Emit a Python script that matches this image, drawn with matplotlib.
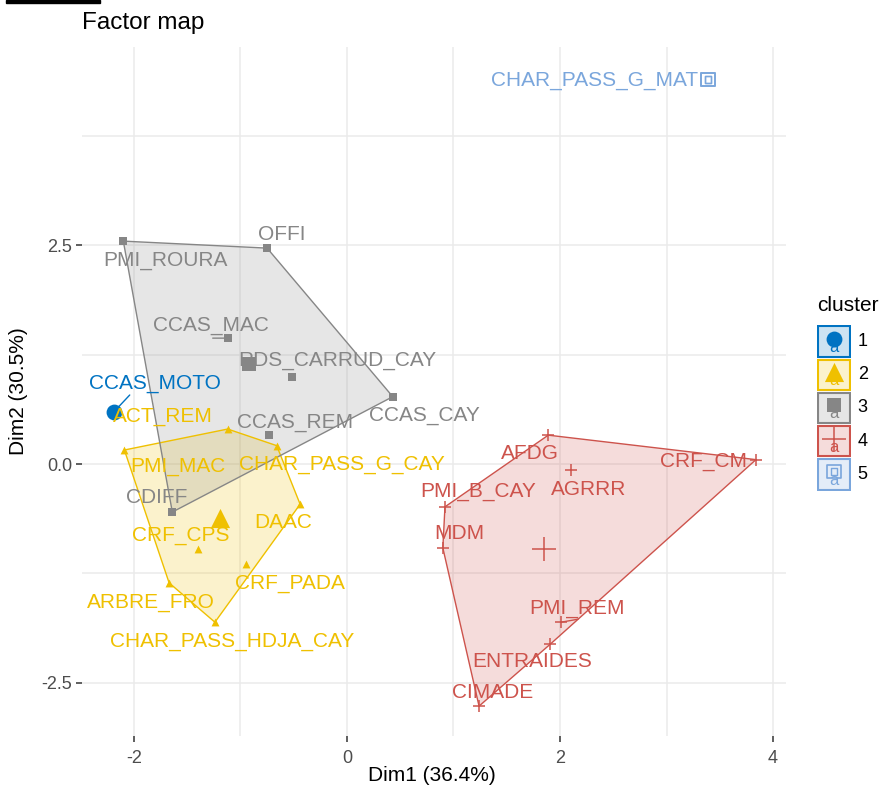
import matplotlib.pyplot as plt
import numpy as np
from matplotlib.patches import Polygon, Rectangle

plt.rcParams["font.family"] = ["Liberation Sans", "DejaVu Sans"]
plt.rcParams["axes.unicode_minus"] = False

# individuals on the first two principal components, with their k-means cluster
names = [
    "CCAS_MOTO",
    "ACT_REM", "PMI_MAC", "CHAR_PASS_G_CAY", "DAAC", "CRF_CPS", "CRF_PADA",
    "ARBRE_FRO", "CHAR_PASS_HDJA_CAY",
    "PMI_ROURA", "OFFI", "CCAS_MAC", "RDS_CARRUD_CAY", "CCAS_CAY", "CCAS_REM", "CDIFF",
    "AFDG", "CRF_CM", "AGRRR", "PMI_B_CAY", "MDM", "PMI_REM", "ENTRAIDES", "CIMADE",
    "CHAR_PASS_G_MAT",
]
dim1 = [
    -2.19,
    -1.12, -2.09, -0.66, -0.44, -1.40, -0.95, -1.67, -1.24,
    -2.10, -0.75, -1.12, -0.52, 0.43, -0.73, -1.64,
    1.89, 3.84, 2.10, 0.92, 0.90, 2.01, 1.91, 1.24,
    3.39,
]
dim2 = [
    0.595,
    0.40, 0.16, 0.21, -0.46, -0.97, -1.14, -1.36, -1.81,
    2.55, 2.47, 1.44, 1.00, 0.77, 0.33, -0.55,
    0.33, 0.05, -0.07, -0.49, -0.96, -1.81, -2.06, -2.77,
    4.40,
]
cluster = [1] + [2] * 8 + [3] * 7 + [4] * 8 + [5]

cluster_ids = [1, 2, 3, 4, 5]
cluster_colors = ["#0073C2", "#EFC000", "#868686", "#CD534C", "#7AA6DC"]
cluster_markers = ["o", "^", "s", "+", "sq"]

# where each repelled label sits relative to its point (pixels)
label_offset = {
    "CCAS_MOTO": (41, 28), "ACT_REM": (-65, 13), "PMI_MAC": (53, -16),
    "CHAR_PASS_G_CAY": (65, -19), "DAAC": (-17, -18), "CRF_CPS": (-17, 13),
    "CRF_PADA": (44, -20), "ARBRE_FRO": (-18, -20), "CHAR_PASS_HDJA_CAY": (17, -19),
    "PMI_ROURA": (42, -19), "OFFI": (15, 14), "CCAS_MAC": (-17, 13),
    "RDS_CARRUD_CAY": (46, 16), "CCAS_CAY": (32, -19), "CCAS_REM": (26, 13),
    "CDIFF": (-16, 15), "AFDG": (-18, -18), "CRF_CM": (-52, -2), "AGRRR": (18, -19),
    "PMI_B_CAY": (33, 15), "MDM": (16, 14), "PMI_REM": (16, 14),
    "ENTRAIDES": (-18, -17), "CIMADE": (14, 14), "CHAR_PASS_G_MAT": (-113, -1),
}
# short repel segments (end point relative to the point, pixels)
segment_end = {"CCAS_MOTO": (16, 17), "CCAS_MAC": (-15, 0), "PMI_REM": (17, 3)}


def convex_hull(pts):
    pts = sorted(map(tuple, pts))
    if len(pts) < 3:
        return pts

    def cross(o, a, b):
        return (a[0] - o[0]) * (b[1] - o[1]) - (a[1] - o[1]) * (b[0] - o[0])

    lower, upper = [], []
    for p in pts:
        while len(lower) >= 2 and cross(lower[-2], lower[-1], p) <= 0:
            lower.pop()
        lower.append(p)
    for p in reversed(pts):
        while len(upper) >= 2 and cross(upper[-2], upper[-1], p) <= 0:
            upper.pop()
        upper.append(p)
    return lower[:-1] + upper[:-1]


def draw_marker(ax, x, y, marker, color, big=False):
    if marker == "o":
        ax.scatter(x, y, marker="o", s=130 if big else 28, color=color, lw=0, zorder=4)
    elif marker == "^":
        ax.scatter(x, y, marker="^", s=190 if big else 32, color=color, lw=0, zorder=4)
    elif marker == "s":
        ax.scatter(x, y, marker="s", s=110 if big else 26, color=color, lw=0, zorder=4)
    elif marker == "+":
        ax.scatter(x, y, marker="+", s=300 if big else 80, color=color, lw=1.1, zorder=4)
    else:
        ax.scatter(x, y, marker="s", s=90, facecolor="none", edgecolor=color, lw=1.2, zorder=4)
        ax.scatter(x, y, marker="s", s=22, facecolor="none", edgecolor=color, lw=1.0, zorder=4)


fig = plt.figure(figsize=(8.84, 7.92), dpi=100)
ax = fig.add_axes([82 / 884, 1 - 736 / 792, 704 / 884, 689 / 792])

dim1 = np.array(dim1)
dim2 = np.array(dim2)
cluster = np.array(cluster)

for cid, color, marker in zip(cluster_ids, cluster_colors, cluster_markers):
    mask = cluster == cid
    xs, ys = dim1[mask], dim2[mask]
    if mask.sum() >= 3:
        hull = convex_hull(np.column_stack([xs, ys]))
        ax.add_patch(Polygon(hull, closed=True, facecolor=color, alpha=0.2, lw=0, zorder=1))
        ax.add_patch(Polygon(hull, closed=True, facecolor="none", edgecolor=color, lw=1.0, zorder=2))
    draw_marker(ax, xs, ys, marker, color)
    draw_marker(ax, xs.mean(), ys.mean(), marker, color, big=True)

for name, x, y, cid in zip(names, dim1, dim2, cluster):
    color = cluster_colors[cid - 1]
    ax.annotate(name, (x, y), xytext=label_offset[name], textcoords="offset pixels",
                ha="center", va="center", fontsize=15, color=color, zorder=5)
    if name in segment_end:
        ax.annotate("", (x, y), xytext=segment_end[name], textcoords="offset pixels",
                    arrowprops=dict(arrowstyle="-", color=color, lw=1.0,
                                    shrinkA=0, shrinkB=0), zorder=3)

ax.set_xlim(-2.488, 4.122)
ax.set_ylim(-3.112, 4.771)
ax.set_xticks([-2, 0, 2, 4])
ax.set_yticks([-2.5, 0, 2.5])
ax.set_yticklabels(["-2.5", "0.0", "2.5"])
ax.set_xticks([-1, 1, 3], minor=True)
ax.set_yticks([-1.25, 1.25, 3.75], minor=True)
ax.grid(True, which="major", color="#EBEBEB", lw=1.1)
ax.grid(True, which="minor", color="#EBEBEB", lw=1.1)
ax.set_axisbelow(True)
for spine in ax.spines.values():
    spine.set_visible(False)
ax.tick_params(which="major", length=4, width=1.1, color="#333333",
               labelsize=13, labelcolor="#4D4D4D", pad=3)
ax.tick_params(axis="x", which="major", pad=6)
ax.tick_params(which="minor", length=0)

ax.set_xlabel("Dim1 (36.4%)", fontsize=15)
ax.set_ylabel("Dim2 (30.5%)", fontsize=15)
ax.xaxis.set_label_coords(0.497, -0.044)
ax.yaxis.set_label_coords(-0.077, 0.5)

fig.text(82 / 884, 1 - 23 / 792, "Factor map", fontsize=17.5, ha="left", va="center")

# legend drawn as key boxes with a point and a text glyph
lax = fig.add_axes([817 / 884, 1 - 491 / 792, 34 / 884, 166 / 792])
lax.set_xlim(0, 1)
lax.set_ylim(5, 0)
lax.axis("off")
for i, (cid, color, marker) in enumerate(zip(cluster_ids, cluster_colors, cluster_markers)):
    lax.add_patch(Rectangle((0.04, i + 0.04), 0.92, 0.92, facecolor=color, alpha=0.2, lw=0))
    lax.add_patch(Rectangle((0.04, i + 0.04), 0.92, 0.92, facecolor="none",
                            edgecolor=color, lw=1.5))
    lax.text(0.5, i + 0.68, "a", color=color, fontsize=12, ha="center", va="center")
    draw_marker(lax, 0.5, i + 0.42, marker, color, big=(marker in ("^", "+", "o", "s")))
    lax.text(1.2, i + 0.5, str(cid), fontsize=13, ha="left", va="center", color="black")
fig.text(817 / 884, 1 - 305 / 792, "cluster", fontsize=15, ha="left", va="center")

fig.add_artist(Rectangle((6 / 884, 1 - 3 / 792), 94 / 884, 3 / 792,
                         transform=fig.transFigure, color="black"))

fig.savefig("out.png", dpi=100)
